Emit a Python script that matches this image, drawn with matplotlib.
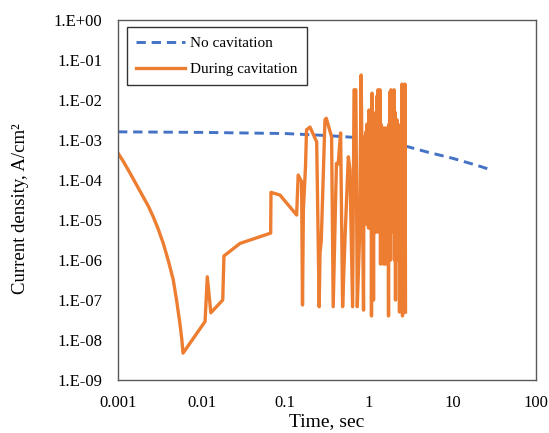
import matplotlib
matplotlib.use("Agg")
import matplotlib.pyplot as plt
from matplotlib.ticker import FixedLocator, FixedFormatter, NullLocator

plt.rcParams['font.family'] = ['Liberation Serif', 'DejaVu Serif']

# No cavitation (blue dashed)
t_nocav = [0.001, 0.01, 0.1, 0.3, 1.0, 2.0, 3.0, 5.0, 10.0, 20.0, 30.0]
j_nocav = [1.6e-3, 1.55e-3, 1.45e-3, 1.3e-3, 1.1e-3, 8.2e-4, 6.7e-4, 5.0e-4, 3.5e-4, 2.3e-4, 1.75e-4]

# During cavitation (orange): early decay and isolated transients
t_cav_early = [
    0.001, 0.00116, 0.00139, 0.00167, 0.002, 0.00231, 0.00264, 0.00303, 0.00348,
    0.0040, 0.00458, 0.00503, 0.0055, 0.00578, 0.0060,
    0.0110, 0.0117, 0.0129, 0.0179, 0.0185, 0.0288, 0.0670, 0.0676, 0.0867, 0.137,
    0.143, 0.157, 0.161, 0.165, 0.175, 0.180, 0.198, 0.238, 0.255, 0.261, 0.27,
    0.299, 0.31, 0.359, 0.375, 0.41, 0.43, 0.46, 0.486, 0.52, 0.569, 0.595, 0.64,
    0.666, 0.70, 0.728, 0.775, 0.81, 0.865,
]
j_cav_early = [
    4.7e-4, 2.9e-4, 1.5e-4, 7.5e-5, 3.8e-5, 2.2e-5, 1.2e-5, 5.9e-6, 2.6e-6,
    9.6e-7, 3.2e-7, 9.6e-8, 2.6e-8, 1.1e-8, 4.7e-9,
    2.9e-8, 3.8e-7, 4.8e-8, 1.0e-7, 1.26e-6, 2.6e-6, 4.7e-6, 4.9e-5, 4.2e-5, 1.33e-5,
    1.33e-4, 9.1e-5, 7.5e-8, 1.8e-5, 2.2e-4, 1.8e-3, 2.1e-3, 9.0e-4, 6.8e-8, 1.5e-6, 3.0e-6,
    3.2e-3, 3.5e-3, 1.2e-3, 6.8e-8, 2.6e-4, 2.5e-4, 1.5e-3, 6.8e-8, 3.8e-6, 3.8e-4, 1.8e-4, 6.8e-8,
    1.8e-2, 1.8e-2, 6.8e-8, 3.8e-6, 4.2e-2, 5.6e-8,
]

# During cavitation (orange): dense oscillation, 0.9 - 2.8 s
t_cav_dense = [
    0.876, 0.888, 0.901, 0.914, 0.926, 0.939, 0.952, 0.965, 0.978, 0.992,
    1.006, 1.020, 1.034, 1.048, 1.062, 1.077, 1.092, 1.107, 1.123, 1.139,
    1.154, 1.170, 1.186, 1.202, 1.219, 1.236, 1.253, 1.270, 1.288, 1.306,
    1.324, 1.342, 1.361, 1.380, 1.399, 1.418, 1.439, 1.459, 1.479, 1.500,
    1.520, 1.541, 1.562, 1.584, 1.606, 1.628, 1.651, 1.674, 1.697, 1.721,
    1.744, 1.768, 1.793, 1.818, 1.843, 1.869, 1.894, 1.920, 1.947, 1.974,
    2.001, 2.029, 2.057, 2.086, 2.115, 2.144, 2.174, 2.204, 2.235, 2.266,
    2.297, 2.329, 2.361, 2.394, 2.427, 2.461, 2.495, 2.530, 2.564, 2.600,
    2.636, 2.673, 2.710, 2.748,
]
j_cav_dense = [
    1.0e-3, 1.6e-5, 1.26e-3, 1.0e-5, 1.6e-3, 7.9e-6, 2.5e-3, 1.0e-5, 1.26e-3, 6.3e-6,
    5.6e-3, 7.9e-6, 2.0e-3, 6.3e-6, 4.0e-3, 4.0e-8, 1.48e-2, 5.0e-6, 1.26e-3, 1.0e-7,
    1.8e-3, 6.3e-6, 1.26e-3, 5.0e-6, 5.0e-3, 6.3e-6, 1.26e-2, 5.0e-6, 1.8e-2, 6.3e-6,
    1.6e-3, 5.0e-6, 1.8e-2, 7.9e-7, 2.5e-3, 6.3e-6, 1.26e-3, 5.0e-6, 2.0e-3, 7.9e-7,
    1.6e-3, 6.3e-6, 2.0e-3, 7.9e-7, 1.26e-3, 5.0e-6, 2.0e-3, 6.3e-6, 1.6e-3, 4.0e-8,
    2.5e-3, 5.0e-6, 1.6e-2, 1.0e-6, 1.8e-2, 6.3e-6, 1.26e-3, 5.0e-6, 1.26e-2, 6.3e-6,
    1.8e-2, 1.0e-6, 5.0e-3, 1.0e-7, 1.6e-3, 5.0e-6, 3.2e-3, 1.0e-6, 2.5e-3, 4.0e-6,
    1.26e-3, 5.0e-8, 2.0e-3, 5.0e-6, 1.0e-3, 4.0e-6, 2.5e-2, 4.0e-8, 2.0e-2, 4.0e-6,
    2.2e-2, 5.0e-6, 2.5e-2, 5.0e-8,
]

x_ticks = [0.001, 0.01, 0.1, 1, 10, 100]
x_labels = ["0.001", "0.01", "0.1", "1", "10", "100"]
y_ticks = [1e0, 1e-1, 1e-2, 1e-3, 1e-4, 1e-5, 1e-6, 1e-7, 1e-8, 1e-9]
y_labels = ["1.E+00", "1.E-01", "1.E-02", "1.E-03", "1.E-04", "1.E-05",
            "1.E-06", "1.E-07", "1.E-08", "1.E-09"]

fig = plt.figure(figsize=(5.49, 4.33), dpi=100)
ax = fig.add_axes([118/549, 1-380/433, 418/549, 360/433])

ax.plot(t_nocav, j_nocav, color='#4472C4', lw=2.1, ls=(0, (3.2, 2.0)), label='No cavitation')
ax.plot(t_cav_early + t_cav_dense, j_cav_early + j_cav_dense, color='#ED7D31', lw=2.4,
        label='During cavitation', solid_joinstyle='round')

ax.set_xscale('log')
ax.set_yscale('log')
ax.set_xlim(0.001, 100)
ax.set_ylim(1e-9, 1)
ax.xaxis.set_major_locator(FixedLocator(x_ticks))
ax.xaxis.set_major_formatter(FixedFormatter(x_labels))
ax.xaxis.set_minor_locator(NullLocator())
ax.yaxis.set_major_locator(FixedLocator(y_ticks))
ax.yaxis.set_major_formatter(FixedFormatter(y_labels))
ax.yaxis.set_minor_locator(NullLocator())
ax.tick_params(length=0, labelsize=12, colors='black')
ax.tick_params(axis='x', pad=11)
ax.tick_params(axis='y', pad=11.5)

for s in ax.spines.values():
    s.set_color('#595959')
    s.set_linewidth(1.0)

ax.set_xlabel('Time, sec', fontsize=14, labelpad=1)
ax.set_ylabel('Current density, A/cm²', fontsize=13.5)
ax.yaxis.set_label_coords(-0.213, 0.475)

leg = ax.legend(loc='upper left', bbox_to_anchor=(0.021, 0.98), borderaxespad=0,
                fontsize=11, fancybox=False, frameon=True, handlelength=3.2,
                handletextpad=0.35, labelspacing=0.8, borderpad=0.6)
leg.get_frame().set_edgecolor('black')
leg.get_frame().set_linewidth(1.0)

fig.savefig('out.png', dpi=100)
